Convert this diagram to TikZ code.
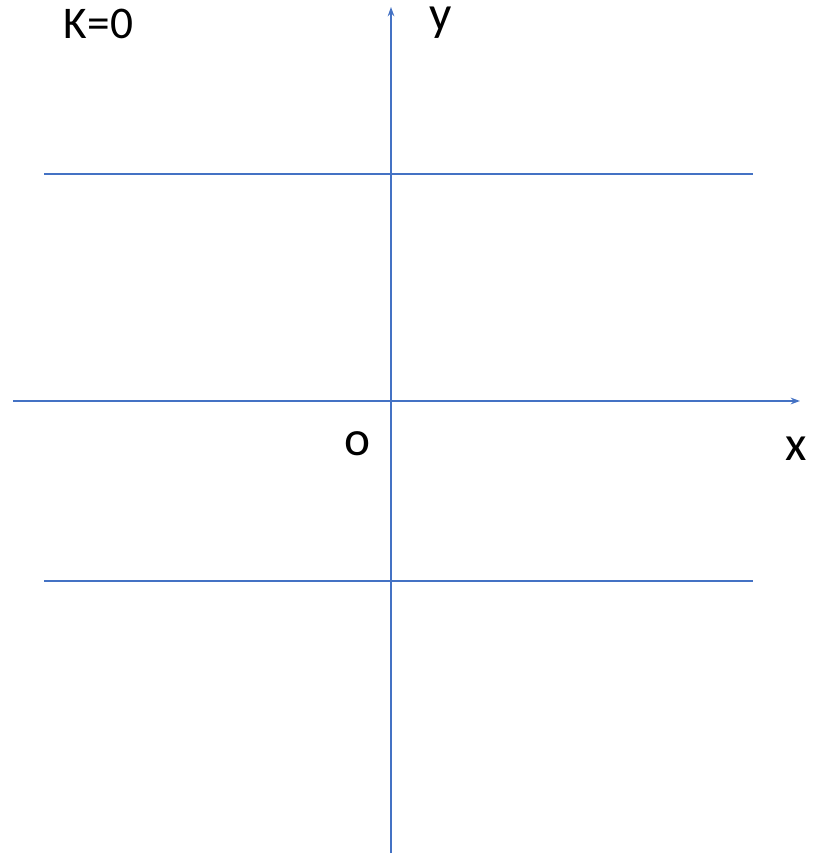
\documentclass[tikz,border=0pt]{standalone}
\usepackage{fontspec}
\setmainfont{Carlito}
\usetikzlibrary{arrows.meta}
\begin{document}
\begin{tikzpicture}[x=0.75pt,y=-0.75pt,
  axis/.style={draw={rgb,255:red,68;green,114;blue,196}, line width=1.1pt},
  arr/.style={-{Stealth[length=7pt,width=5pt]}},
  lbl/.style={font=\fontsize{37}{40}\selectfont, inner sep=0pt, anchor=base},
  ttl/.style={font=\fontsize{34}{38}\selectfont, inner sep=0pt, anchor=base}]
\useasboundingbox (0,0) rectangle (817,855);
\coordinate (ybot) at (391,853);
\coordinate (ytop) at (391,7);
\coordinate (xl) at (13,401);
\coordinate (xr) at (800,401);
\coordinate (h1l) at (44,174);
\coordinate (h1r) at (753,174);
\coordinate (h2l) at (44,581);
\coordinate (h2r) at (753,581);
\draw[axis] (h1l) -- (h1r);
\draw[axis] (h2l) -- (h2r);
\draw[axis,arr] (ybot) -- (ytop);
\draw[axis,arr] (xl) -- (xr);
\node[ttl] (k) at (98.5,39) {K=0};
\node[lbl] (ylab) at (441,31) {y};
\node[lbl] (xlab) at (796,460) {x};
\node[lbl] (olab) at (358,455) {o};
\end{tikzpicture}
\end{document}
